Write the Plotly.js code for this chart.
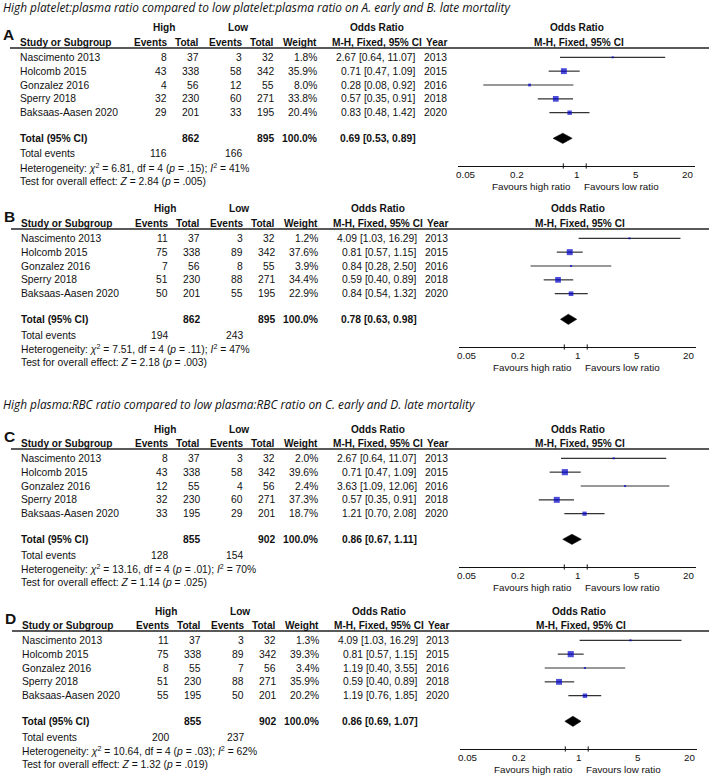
<!DOCTYPE html>
<html><head><meta charset="utf-8">
<script src="https://cdn.plot.ly/plotly-3.0.1.min.js"></script>
<style>html,body{margin:0;padding:0;background:#fff}#chart{width:709px;height:777px}</style>
</head><body><div id="chart"></div>
<script>
// ---------------- DATA ----------------
const studies = ["Nascimento 2013", "Holcomb 2015", "Gonzalez 2016", "Sperry 2018", "Baksaas-Aasen 2020"];
const years = [2013, 2015, 2016, 2018, 2020];
const panelLetters = ["A", "B", "C", "D"];
const sectionTitles = [
  "High platelet:plasma ratio compared to low platelet:plasma ratio on A. early and B. late mortality",
  "High plasma:RBC ratio compared to low plasma:RBC ratio on C. early and D. late mortality"
];
const tickValues = [0.05, 0.2, 1, 5, 20];
const tickLabels = ["0.05", "0.2", "1", "5", "20"];
const favoursLabels = ["Favours high ratio", "Favours low ratio"];

// Panel A
const highEventsA = [8, 43, 4, 32, 29];
const highTotalA = [37, 338, 56, 230, 201];
const lowEventsA = [3, 58, 12, 60, 33];
const lowTotalA = [32, 342, 55, 271, 195];
const weightA = [1.8, 35.9, 8.0, 33.8, 20.4];
const orA = [2.67, 0.71, 0.28, 0.57, 0.83];
const ciLowA = [0.64, 0.47, 0.08, 0.35, 0.48];
const ciHighA = [11.07, 1.09, 0.92, 0.91, 1.42];
// Panel B
const highEventsB = [11, 75, 7, 51, 50];
const highTotalB = [37, 338, 56, 230, 201];
const lowEventsB = [3, 89, 8, 88, 55];
const lowTotalB = [32, 342, 55, 271, 195];
const weightB = [1.2, 37.6, 3.9, 34.4, 22.9];
const orB = [4.09, 0.81, 0.84, 0.59, 0.84];
const ciLowB = [1.03, 0.57, 0.28, 0.40, 0.54];
const ciHighB = [16.29, 1.15, 2.50, 0.89, 1.32];
// Panel C
const highEventsC = [8, 43, 12, 32, 33];
const highTotalC = [37, 338, 55, 230, 195];
const lowEventsC = [3, 58, 4, 60, 29];
const lowTotalC = [32, 342, 56, 271, 201];
const weightC = [2.0, 39.6, 2.4, 37.3, 18.7];
const orC = [2.67, 0.71, 3.63, 0.57, 1.21];
const ciLowC = [0.64, 0.47, 1.09, 0.35, 0.70];
const ciHighC = [11.07, 1.09, 12.06, 0.91, 2.08];
// Panel D
const highEventsD = [11, 75, 8, 51, 55];
const highTotalD = [37, 338, 55, 230, 195];
const lowEventsD = [3, 89, 7, 88, 50];
const lowTotalD = [32, 342, 56, 271, 201];
const weightD = [1.3, 39.3, 3.4, 35.9, 20.2];
const orD = [4.09, 0.81, 1.19, 0.59, 1.19];
const ciLowD = [1.03, 0.57, 0.40, 0.40, 0.76];
const ciHighD = [16.29, 1.15, 3.55, 0.89, 1.85];

// Pooled results per panel (A, B, C, D)
const totalHighN = [862, 862, 855, 855];
const totalLowN = [895, 895, 902, 902];
const totalWeight = [100.0, 100.0, 100.0, 100.0];
const pooledOR = [0.69, 0.78, 0.86, 0.86];
const pooledLow = [0.53, 0.63, 0.67, 0.69];
const pooledHigh = [0.89, 0.98, 1.11, 1.07];
const totalEventsHigh = [116, 194, 128, 200];
const totalEventsLow = [166, 243, 154, 237];
const chiSquare = ["6.81", "7.51", "13.16", "10.64"];
const degFree = [4, 4, 4, 4];
const hetP = [".15", ".11", ".01", ".03"];
const iSquare = [41, 47, 70, 62];
const zValue = ["2.84", "2.18", "1.14", "1.32"];
const zP = [".005", ".003", ".025", ".019"];

const panels = [
  {he: highEventsA, ht: highTotalA, le: lowEventsA, lt: lowTotalA, w: weightA, or: orA, lo: ciLowA, hi: ciHighA},
  {he: highEventsB, ht: highTotalB, le: lowEventsB, lt: lowTotalB, w: weightB, or: orB, lo: ciLowB, hi: ciHighB},
  {he: highEventsC, ht: highTotalC, le: lowEventsC, lt: lowTotalC, w: weightC, or: orC, lo: ciLowC, hi: ciHighC},
  {he: highEventsD, ht: highTotalD, le: lowEventsD, lt: lowTotalD, w: weightD, or: orD, lo: ciLowD, hi: ciHighD}
];

// ---------------- LAYOUT CONSTANTS ----------------
const W = 709, H = 777;
const FONT = "Liberation Sans, Arial, sans-serif";
const TITLE_FONT = "Open Sans, Lato, sans-serif";
const headerY = [48, 229, 449, 631];   // header rule per panel (px)
const shiftX = [0, 1, 1, 2];
const titleY = [7, 404];
const ROW0 = 9.3, ROWH = 13.85, PLOT_H = 118, TOTAL_OFF = 90.3;
const X_LEFT = 458, X_RIGHT = 695, LOGHALF = 1.395;
const rowOf = off => 1 + (off - ROW0) / ROWH;

const annotations = [], shapes = [], traces = [];
const layout = {
  width: W, height: H, margin: {l: 0, r: 0, t: 0, b: 0},
  paper_bgcolor: "#fff", plot_bgcolor: "rgba(0,0,0,0)", showlegend: false,
  font: {family: FONT, color: "#111"}
};

function ann(text, x, y, xanchor, size, extra) {
  annotations.push(Object.assign({
    text: text, x: x / W, y: 1 - y / H, xref: "paper", yref: "paper",
    xanchor: xanchor, yanchor: "middle", showarrow: false, borderpad: 0,
    font: {family: FONT, size: size || 10.3, color: "#111"}
  }, extra || {}));
}

sectionTitles.forEach((t, i) => {
  ann("<i>" + t + "</i>", 2, titleY[i], "left", 11.85, {font: {family: TITLE_FONT, size: 11.85, color: "#111"}});
});

panels.forEach((p, k) => {
  const L = headerY[k], dx = shiftX[k];
  const ax = k === 0 ? "" : String(k + 1);
  const yTop = 1 - L / H, yBot = 1 - (L + PLOT_H) / H;

  // axes
  layout["xaxis" + ax] = {
    type: "log", range: [-LOGHALF, LOGHALF],
    domain: [(X_LEFT + dx) / W, (X_RIGHT + dx) / W], anchor: "y" + ax,
    showline: true, linecolor: "#111", linewidth: 1, showgrid: false, zeroline: false,
    ticks: "", showticklabels: false, fixedrange: true
  };
  layout["yaxis" + ax] = {
    domain: [yBot, yTop], range: [rowOf(PLOT_H), rowOf(0)], anchor: "x" + ax,
    visible: false, showgrid: false, zeroline: false, fixedrange: true
  };

  // header rule
  shapes.push({type: "line", xref: "paper", yref: "paper", x0: (10 + dx) / W, x1: 1, y0: yTop, y1: yTop,
    line: {color: "#222", width: 1.3}});
  // line of no effect
  shapes.push({type: "line", xref: "x" + ax, yref: "y" + ax + " domain", x0: 0, x1: 0, y0: 0, y1: 1,
    line: {color: "#111", width: 1}});
  // tick marks crossing the axis line, and their labels, placed on the log axis
  tickValues.forEach((v, j) => {
    shapes.push({type: "line", xref: "x" + ax, yref: "y" + ax + " domain", x0: Math.log10(v), x1: Math.log10(v),
      y0: -0.022, y1: 0.022, line: {color: "#111", width: 1}});
    annotations.push({text: tickLabels[j], xref: "x" + ax, x: Math.log10(v), yref: "paper", y: 1 - (L + 126) / H,
      xanchor: "center", yanchor: "middle", showarrow: false, borderpad: 0,
      font: {family: FONT, size: 9.8, color: "#111"}});
  });

  // CI lines
  const cx = [], cy = [];
  p.or.forEach((v, i) => { cx.push(p.lo[i], p.hi[i], null); cy.push(i + 1, i + 1, null); });
  traces.push({type: "scatter", mode: "lines", x: cx, y: cy, xaxis: "x" + ax, yaxis: "y" + ax,
    line: {color: "#333", width: 1.2}, hoverinfo: "skip", cliponaxis: false});
  // squares
  traces.push({type: "scatter", mode: "markers", x: p.or, y: p.or.map((v, i) => i + 1),
    xaxis: "x" + ax, yaxis: "y" + ax,
    marker: {symbol: "square", color: "#0000cc", size: p.w.map(w => Math.max(2, 0.98 * Math.sqrt(w))), line: {width: 0}},
    hoverinfo: "skip"});
  // diamond
  const ty = rowOf(TOTAL_OFF), dh = 5.15 / ROWH;
  traces.push({type: "scatter", mode: "lines", fill: "toself", fillcolor: "#000",
    x: [pooledLow[k], pooledOR[k], pooledHigh[k], pooledOR[k], pooledLow[k]],
    y: [ty, ty - dh, ty, ty + dh, ty], xaxis: "x" + ax, yaxis: "y" + ax,
    line: {color: "#000", width: 0.5}, hoverinfo: "skip"});

  // ---- table text ----
  const c = {study: 19 + dx, he: 168 + dx, ht: 200 + dx, le: 243 + dx, lt: 275 + dx, w: 318 + dx,
    or: 417 + dx, yr: 448 + dx, highC: 164 + dx, lowC: 238 + dx, orC: 377 + dx};
  const plotC = (X_LEFT + X_RIGHT) / 2 + dx;
  ann("<b>" + panelLetters[k] + "</b>", 2 + dx, L - 13, "left", 15.5);
  ann("<b>High</b>", c.highC, L - 20, "center", 10.1);
  ann("<b>Low</b>", c.lowC, L - 20, "center", 10.1);
  ann("<b>Odds Ratio</b>", c.orC, L - 20, "center", 10.1);
  ann("<b>Odds Ratio</b>", plotC, L - 20, "center", 10.1);
  ann("<b>Study or Subgroup</b>", c.study, L - 6, "left", 10.1);
  ann("<b>Events</b>", c.he, L - 6, "right", 10.1);
  ann("<b>Total</b>", c.ht, L - 6, "right", 10.1);
  ann("<b>Events</b>", c.le, L - 6, "right", 10.1);
  ann("<b>Total</b>", c.lt, L - 6, "right", 10.1);
  ann("<b>Weight</b>", c.w, L - 6, "right", 10.1);
  ann("<b>M-H, Fixed, 95% CI</b>", c.or + 6, L - 6, "right", 10.1);
  ann("<b>Year</b>", c.yr, L - 6, "right", 10.1);
  ann("<b>M-H, Fixed, 95% CI</b>", plotC + 2, L - 6, "center", 10.1);

  studies.forEach((s, i) => {
    const y = L + ROW0 + ROWH * i;
    ann(s, c.study, y, "left");
    ann(String(p.he[i]), c.he, y, "right");
    ann(String(p.ht[i]), c.ht, y, "right");
    ann(String(p.le[i]), c.le, y, "right");
    ann(String(p.lt[i]), c.lt, y, "right");
    ann(p.w[i].toFixed(1) + "%", c.w, y, "right");
    ann(p.or[i].toFixed(2) + " [" + p.lo[i].toFixed(2) + ", " + p.hi[i].toFixed(2) + "]", c.or, y, "right");
    ann(String(years[i]), c.yr, y, "right");
  });
  const yt = L + TOTAL_OFF;
  ann("<b>Total (95% CI)</b>", c.study, yt, "left");
  ann("<b>" + totalHighN[k] + "</b>", c.ht, yt, "right");
  ann("<b>" + totalLowN[k] + "</b>", c.lt, yt, "right");
  ann("<b>" + totalWeight[k].toFixed(1) + "%</b>", c.w, yt, "right");
  ann("<b>" + pooledOR[k].toFixed(2) + " [" + pooledLow[k].toFixed(2) + ", " + pooledHigh[k].toFixed(2) + "]</b>", c.or, yt, "right");
  ann("Total events", c.study, L + 106, "left");
  ann(String(totalEventsHigh[k]), c.he, L + 106, "right");
  ann(String(totalEventsLow[k]), c.le, L + 106, "right");
  ann("Heterogeneity: <i>χ</i><sup>2</sup> = " + chiSquare[k] + ", df = " + degFree[k] + " (<i>p</i> = " + hetP[k] +
      "); <i>I</i><sup>2</sup> = " + iSquare[k] + "%", c.study, L + 119.7, "left");
  ann("Test for overall effect: <i>Z</i> = " + zValue[k] + " (<i>p</i> = " + zP[k] + ")", c.study, L + 133.7, "left");

  // favours labels
  const oneX = X_LEFT + dx + (X_RIGHT - X_LEFT) / 2;
  ann(favoursLabels[0], oneX - 5, L + 138.5, "right", 9.8);
  ann(favoursLabels[1], oneX + 6, L + 138.5, "left", 9.8);
});

layout.annotations = annotations;
layout.shapes = shapes;
Plotly.newPlot("chart", traces, layout, {staticPlot: true, displayModeBar: false});
</script>
</body></html>
